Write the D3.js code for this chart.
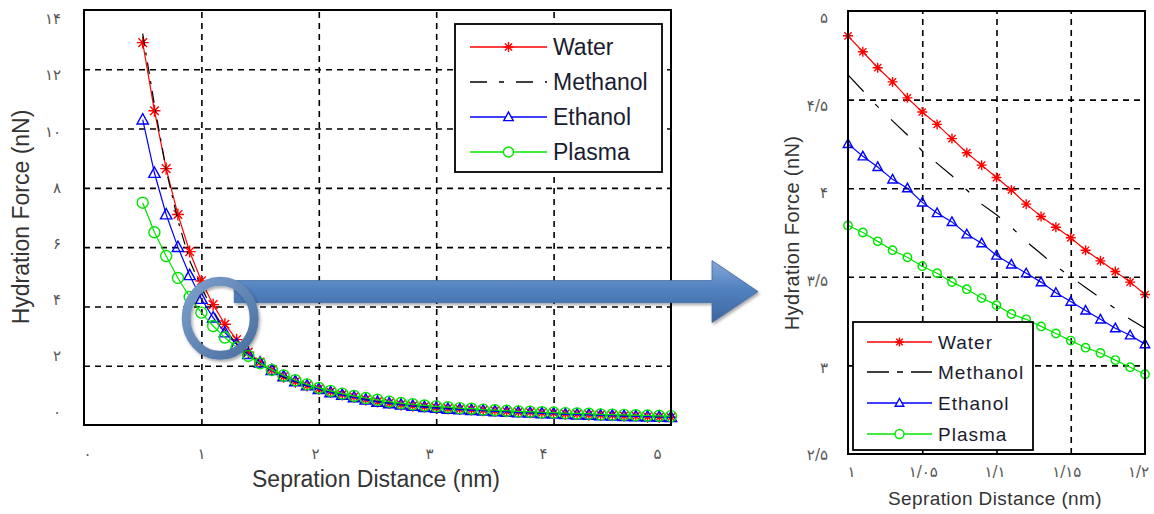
<!DOCTYPE html>
<html>
<head>
<meta charset="utf-8">
<script src="https://cdn.jsdelivr.net/npm/d3@7"></script>
<style>
  body { margin: 0; background: #fff; }
</style>
</head>
<body>
<div id="chart"></div>
<script>
// Hydration force vs separation distance, full range (left) and zoom 1-1.2 nm (right)
const distance = [0.5, 0.6, 0.7, 0.8, 0.9, 1.0, 1.1, 1.2, 1.3, 1.4, 1.5, 1.6, 1.7, 1.8, 1.9, 2.0,
    2.1, 2.2, 2.3, 2.4, 2.5, 2.6, 2.7, 2.8, 2.9, 3.0, 3.1, 3.2, 3.3, 3.4, 3.5, 3.6, 3.7, 3.8, 3.9, 4.0,
    4.1, 4.2, 4.3, 4.4, 4.5, 4.6, 4.7, 4.8, 4.9, 5.0];
const water = [12.9, 10.6, 8.65, 7.1, 5.85, 4.86, 4.06, 3.40, 2.88, 2.46, 2.12, 1.85, 1.63, 1.46, 1.33, 1.22,
    1.12, 1.03, 0.95, 0.86, 0.79, 0.74, 0.69, 0.65, 0.62, 0.59, 0.56, 0.54, 0.52, 0.50, 0.48, 0.46, 0.44, 0.43, 0.41, 0.40,
    0.38, 0.37, 0.35, 0.34, 0.33, 0.31, 0.30, 0.28, 0.27, 0.26];
const methanol = [13.2, 10.8, 8.6, 6.9, 5.55, 4.64, 3.85, 3.21, 2.74, 2.36, 2.06, 1.81, 1.61, 1.45, 1.32, 1.21,
    1.11, 1.02, 0.94, 0.86, 0.79, 0.74, 0.69, 0.65, 0.62, 0.59, 0.56, 0.54, 0.52, 0.50, 0.48, 0.46, 0.44, 0.42, 0.41, 0.39,
    0.38, 0.36, 0.35, 0.34, 0.32, 0.31, 0.30, 0.29, 0.28, 0.27];
const ethanol = [10.3, 8.5, 7.1, 6.0, 5.05, 4.25, 3.62, 3.12, 2.72, 2.39, 2.10, 1.85, 1.64, 1.47, 1.33, 1.21,
    1.10, 1.01, 0.93, 0.85, 0.78, 0.73, 0.68, 0.64, 0.60, 0.57, 0.54, 0.52, 0.50, 0.48, 0.46, 0.44, 0.42, 0.41, 0.39, 0.38,
    0.36, 0.35, 0.34, 0.32, 0.31, 0.30, 0.29, 0.28, 0.27, 0.26];
const plasma = [7.5, 6.5, 5.7, 4.96, 4.32, 3.79, 3.34, 2.95, 2.62, 2.33, 2.08, 1.86, 1.67, 1.51, 1.37, 1.25,
    1.15, 1.06, 0.98, 0.91, 0.85, 0.79, 0.74, 0.70, 0.66, 0.63, 0.60, 0.57, 0.55, 0.52, 0.50, 0.48, 0.46, 0.45, 0.43, 0.42,
    0.40, 0.39, 0.38, 0.36, 0.35, 0.34, 0.33, 0.32, 0.31, 0.30];

const zoomDistance = [1.00, 1.01, 1.02, 1.03, 1.04, 1.05, 1.06, 1.07, 1.08, 1.09, 1.10,
    1.11, 1.12, 1.13, 1.14, 1.15, 1.16, 1.17, 1.18, 1.19, 1.20];
const zoomWater = [4.86, 4.77, 4.68, 4.60, 4.51, 4.43, 4.36, 4.28, 4.20, 4.13, 4.06,
    3.99, 3.91, 3.84, 3.78, 3.72, 3.65, 3.59, 3.53, 3.47, 3.40];
const zoomMethanol = [4.64, 4.55, 4.46, 4.38, 4.30, 4.21, 4.14, 4.07, 3.99, 3.91, 3.85,
    3.78, 3.70, 3.63, 3.56, 3.50, 3.44, 3.38, 3.32, 3.26, 3.21];
const zoomEthanol = [4.25, 4.18, 4.12, 4.05, 4.00, 3.92, 3.86, 3.81, 3.74, 3.69, 3.62,
    3.57, 3.52, 3.47, 3.41, 3.36, 3.31, 3.26, 3.21, 3.17, 3.12];
const zoomPlasma = [3.79, 3.75, 3.70, 3.65, 3.61, 3.56, 3.52, 3.47, 3.43, 3.38, 3.34,
    3.29, 3.26, 3.22, 3.18, 3.14, 3.10, 3.07, 3.03, 2.99, 2.95];

const seriesNames = ["Water", "Methanol", "Ethanol", "Plasma"];

const leftXTicks = [0, 1, 2, 3, 4, 5];
const leftXTickLabels = ["۰", "۱", "۲", "۳", "۴", "۵"];
const leftYTicks = [0, 2, 4, 6, 8, 10, 12, 14];
const leftYTickLabels = ["۰", "۲", "۴", "۶", "۸", "۱۰", "۱۲", "۱۴"];
const rightXTicks = [1, 1.05, 1.1, 1.15, 1.2];
const rightXTickLabels = ["۱", "۱/۰۵", "۱/۱", "۱/۱۵", "۱/۲"];
const rightYTicks = [2.5, 3, 3.5, 4, 4.5, 5];
const rightYTickLabels = ["۲/۵", "۳", "۳/۵", "۴", "۴/۵", "۵"];

const xTitle = "Sepration Distance (nm)";
const yTitle = "Hydration Force (nN)";

// line / marker look per series
const seriesStyle = {
    Water:    {color: "#ff0000", marker: "star"},
    Methanol: {color: "#000000", marker: null},
    Ethanol:  {color: "#0000ff", marker: "triangle"},
    Plasma:   {color: "#00e600", marker: "circle"}
};

const width = 1154, height = 514;
const svg = d3.select("#chart").append("svg")
    .attr("width", width)
    .attr("height", height)
    .style("font-family", "'Liberation Sans', Arial, sans-serif");

const defs = svg.append("defs");
const grad = defs.append("linearGradient").attr("id", "arrowGrad")
    .attr("x1", 0).attr("y1", 0).attr("x2", 0).attr("y2", 1);
grad.append("stop").attr("offset", "0%").attr("stop-color", "#86a8d8");
grad.append("stop").attr("offset", "45%").attr("stop-color", "#5282c0");
grad.append("stop").attr("offset", "100%").attr("stop-color", "#3c659e");
const ringGrad = defs.append("linearGradient").attr("id", "ringGrad")
    .attr("x1", 0).attr("y1", 0).attr("x2", 1).attr("y2", 1);
ringGrad.append("stop").attr("offset", "0%").attr("stop-color", "#7c9fcc");
ringGrad.append("stop").attr("offset", "100%").attr("stop-color", "#4a6f9f");
defs.append("filter").attr("id", "shadow")
    .attr("x", "-10%").attr("y", "-30%").attr("width", "130%").attr("height", "170%")
    .append("feDropShadow")
    .attr("dx", 1.5).attr("dy", 2).attr("stdDeviation", 1.5)
    .attr("flood-color", "#000").attr("flood-opacity", 0.35);

function markerPath(type, r) {
    if (type === "star") {
        const d = r * 0.72;
        return `M${-r},0H${r}M0,${-r}V${r}M${-d},${-d}L${d},${d}M${-d},${d}L${d},${-d}`;
    }
    if (type === "triangle") {
        return `M0,${-r}L${r * 0.95},${r * 0.72}L${-r * 0.95},${r * 0.72}Z`;
    }
    return `M${r},0A${r},${r} 0 1,1 ${-r},0A${r},${r} 0 1,1 ${r},0Z`;
}

function drawPanel(cfg) {
    const g = svg.append("g");
    const x = cfg.x, y = cfg.y;
    const [x0, x1] = x.range();
    const [y0, y1] = y.range();

    // dashed grid
    g.append("g")
        .attr("transform", `translate(0,${y0})`)
        .call(d3.axisBottom(x).tickValues(cfg.xGrid).tickSize(-(y0 - y1)).tickFormat(""))
        .call(a => a.select(".domain").remove())
        .selectAll("line")
        .attr("stroke", "#000")
        .attr("stroke-width", 1.6)
        .attr("stroke-dasharray", "6,5");
    g.append("g")
        .attr("transform", `translate(${x0},0)`)
        .call(d3.axisLeft(y).tickValues(cfg.yGrid).tickSize(-(x1 - x0)).tickFormat(""))
        .call(a => a.select(".domain").remove())
        .selectAll("line")
        .attr("stroke", "#000")
        .attr("stroke-width", 1.6)
        .attr("stroke-dasharray", "6,5");

    // tick labels (Persian digits)
    g.append("g")
        .attr("transform", `translate(0,${cfg.xLabelY})`)
        .call(d3.axisBottom(cfg.xLab).tickValues(cfg.xTicks)
            .tickFormat((d, i) => cfg.xTickLabels[i]).tickSize(0).tickPadding(0))
        .call(a => a.select(".domain").remove())
        .selectAll("text")
        .attr("dy", "0.35em")
        .attr("fill", "#555")
        .attr("font-family", "'DejaVu Sans', sans-serif")
        .attr("font-size", cfg.tickFont);
    g.append("g")
        .attr("transform", `translate(${cfg.yLabelX},0)`)
        .call(d3.axisLeft(cfg.yLab).tickValues(cfg.yTicks)
            .tickFormat((d, i) => cfg.yTickLabels[i]).tickSize(0).tickPadding(0))
        .call(a => a.select(".domain").remove())
        .selectAll("text")
        .attr("fill", "#555")
        .attr("font-family", "'DejaVu Sans', sans-serif")
        .attr("font-size", cfg.tickFont);

    // series
    cfg.series.forEach((vals, k) => {
        const name = seriesNames[k];
        const st = seriesStyle[name];
        const pts = cfg.xs.map((d, i) => [d, vals[i]]);
        g.append("path")
            .datum(pts)
            .attr("fill", "none")
            .attr("stroke", st.color)
            .attr("stroke-width", 1.2)
            .attr("stroke-dasharray", name === "Methanol" ? cfg.dashDot : null)
            .attr("d", d3.line().x(d => x(d[0])).y(d => y(d[1])));
        if (st.marker) {
            g.selectAll(null)
                .data(pts)
                .enter()
                .append("path")
                .attr("transform", d => `translate(${x(d[0])},${y(d[1])})`)
                .attr("d", markerPath(st.marker, cfg.markerR[st.marker]))
                .attr("fill", "none")
                .attr("stroke", st.color)
                .attr("stroke-width", 1.4);
        }
    });

    // box
    g.append("rect")
        .attr("x", x0).attr("y", y1)
        .attr("width", x1 - x0).attr("height", y0 - y1)
        .attr("fill", "none")
        .attr("stroke", "#000")
        .attr("stroke-width", 2);

    // axis titles
    g.append("text")
        .attr("x", cfg.xTitlePos[0])
        .attr("y", cfg.xTitlePos[1])
        .attr("text-anchor", "middle")
        .attr("fill", "#333")
        .style("font-size", cfg.titleFont + "px")
        .style("letter-spacing", cfg.titleSpacing + "px")
        .text(xTitle);
    g.append("text")
        .attr("transform", `translate(${cfg.yTitlePos[0]},${cfg.yTitlePos[1]}) rotate(-90)`)
        .attr("text-anchor", "middle")
        .attr("fill", "#333")
        .style("font-size", cfg.yTitleFont + "px")
        .style("letter-spacing", cfg.titleSpacing + "px")
        .text(yTitle);

    // legend
    const L = cfg.legend;
    const leg = g.append("g");
    leg.append("rect")
        .attr("x", L.box[0]).attr("y", L.box[1])
        .attr("width", L.box[2]).attr("height", L.box[3])
        .attr("fill", "#fff")
        .attr("stroke", "#000")
        .attr("stroke-width", 1.8);
    seriesNames.forEach((name, i) => {
        const st = seriesStyle[name];
        const ly = L.rows[i];
        const row = leg.append("g").attr("transform", `translate(0,${ly})`);
        row.append("line")
            .attr("x1", L.line[0]).attr("x2", L.line[1])
            .attr("stroke", st.color)
            .attr("stroke-width", 1.4)
            .attr("stroke-dasharray", name === "Methanol" ? L.dashDot : null);
        if (st.marker) {
            row.append("path")
                .attr("transform", `translate(${(L.line[0] + L.line[1]) / 2},0)`)
                .attr("d", markerPath(st.marker, L.markerR))
                .attr("fill", "#fff")
                .attr("stroke", st.color)
                .attr("stroke-width", 1.4);
        }
        row.append("text")
            .attr("x", L.textX)
            .attr("dy", "0.35em")
            .attr("fill", "#1c1c30")
            .style("font-size", L.font + "px")
            .style("letter-spacing", L.spacing + "px")
            .text(name);
    });
    return g;
}

// left panel: full range
const xL = d3.scaleLinear().domain([0, 5]).range([84, 671]);
const yL = d3.scaleLinear().domain([0, 14]).range([425, 10]);
drawPanel({
    x: xL, y: yL,
    xLab: d3.scaleLinear().domain([0, 5]).range([87, 657]),
    yLab: d3.scaleLinear().domain([0, 14]).range([412, 19]),
    xGrid: [1, 2, 3, 4], yGrid: [2, 4, 6, 8, 10, 12],
    xTicks: leftXTicks, xTickLabels: leftXTickLabels,
    yTicks: leftYTicks, yTickLabels: leftYTickLabels,
    xLabelY: 454, yLabelX: 61, tickFont: 15,
    xs: distance, series: [water, methanol, ethanol, plasma],
    markerR: {star: 6, triangle: 6, circle: 5.5},
    dashDot: "12,7,3,7",
    xTitlePos: [376, 487], yTitlePos: [29, 217],
    titleFont: 23, yTitleFont: 23, titleSpacing: 0,
    legend: {box: [455, 24, 207, 148], rows: [47, 82, 117, 152], line: [470, 547],
        textX: 553, font: 23, spacing: 0, markerR: 5, dashDot: "17,12,5,12"}
});

// right panel: zoom 1 - 1.2 nm
const xR = d3.scaleLinear().domain([1, 1.2]).range([848, 1145]);
const yR = d3.scaleLinear().domain([2.5, 5]).range([454, 11]);
drawPanel({
    x: xR, y: yR,
    xLab: d3.scaleLinear().domain([1, 1.2]).range([851, 1138]),
    yLab: d3.scaleLinear().domain([2.5, 5]).range([455, 18]),
    xGrid: [1.05, 1.1, 1.15], yGrid: [3, 3.5, 4, 4.5],
    xTicks: rightXTicks, xTickLabels: rightXTickLabels,
    yTicks: rightYTicks, yTickLabels: rightYTickLabels,
    xLabelY: 472, yLabelX: 828, tickFont: 15,
    xs: zoomDistance, series: [zoomWater, zoomMethanol, zoomEthanol, zoomPlasma],
    markerR: {star: 5, triangle: 5, circle: 4.2},
    dashDot: "23,17,5,17",
    xTitlePos: [995, 505], yTitlePos: [799, 233],
    titleFont: 19, yTitleFont: 20, titleSpacing: 0.4,
    legend: {box: [853, 322, 180, 128], rows: [342, 372, 403, 434], line: [867, 932],
        textX: 938, font: 19, spacing: 1, markerR: 4.5, dashDot: "22,8,6,8"}
});

// zoom annotation: ring around the 1-1.2 nm region and arrow to the right panel
const ringAt = {x: 1.16, y: 3.6};
const arrowAt = {x: 1.28, y: 4.5};
const cx = xL(ringAt.x), cy = yL(ringAt.y);
const ay = yL(arrowAt.y), ax0 = xL(arrowAt.x), tipX = xR(1) - 90;
const shaftHalf = 11, headHalf = 31, headLen = 46;
svg.append("path")
    .attr("d", `M${ax0},${ay - shaftHalf}H${tipX - headLen}V${ay - headHalf}L${tipX},${ay}` +
        `L${tipX - headLen},${ay + headHalf}V${ay + shaftHalf}H${ax0}Z`)
    .attr("fill", "url(#arrowGrad)")
    .attr("stroke", "#41689c")
    .attr("stroke-width", 0.8)
    .attr("filter", "url(#shadow)");
svg.append("ellipse")
    .attr("cx", cx).attr("cy", cy)
    .attr("rx", 34).attr("ry", 37)
    .attr("fill", "none")
    .attr("stroke", "url(#ringGrad)")
    .attr("stroke-width", 9)
    .attr("filter", "url(#shadow)");
</script>
</body>
</html>
